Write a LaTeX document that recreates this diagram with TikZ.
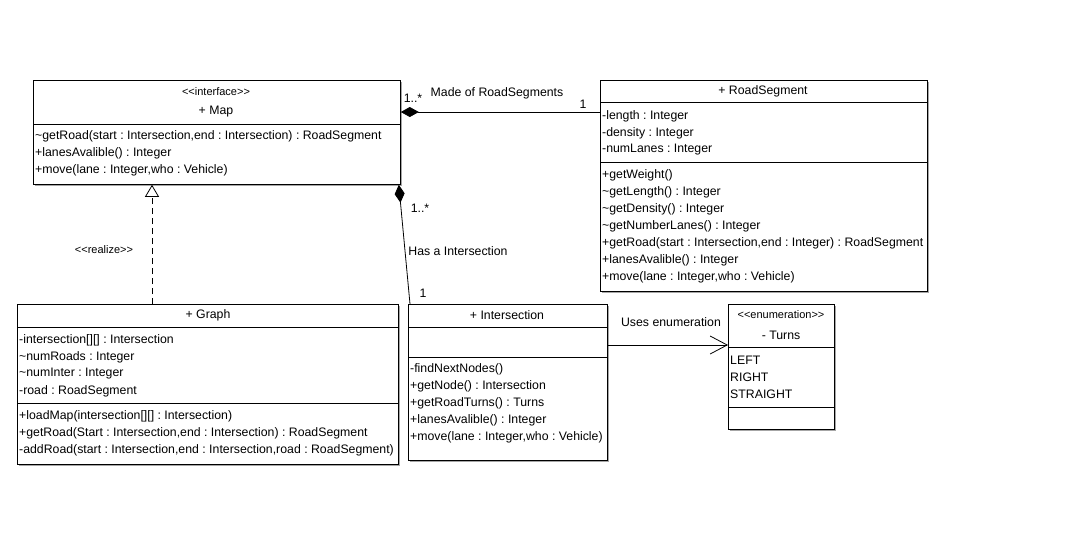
\documentclass[tikz,border=0pt]{standalone}
\usepackage{fontspec}
\setmainfont{Liberation Sans}
\usetikzlibrary{
  arrows.meta,
  positioning,
  calc,
  shadows
}
\newcommand{\til}{\symbol{126}}
\frenchspacing

\begin{document}
\begin{tikzpicture}[
x=1pt,y=-1pt,
font=\fontsize{12.3}{14}\selectfont,
classe/.style={
draw,
line width=0.8pt,
fill=white,
anchor=north west,
inner sep=0pt,
drop shadow={shadow xshift=1.5pt,shadow yshift=-1.5pt,fill=black!35,opacity=1}
},
linha/.style={anchor=west,inner sep=0pt,yshift=-2pt},
titulo/.style={inner sep=0pt,yshift=-2pt},
estereo/.style={inner sep=0pt,yshift=-1pt,font=\fontsize{11}{13}\selectfont},
rotulo/.style={inner sep=0pt,yshift=-2pt},
div/.style={line width=0.8pt},
comp/.style={{Diamond[length=18pt,width=10pt]}-,line width=0.8pt},
realiza/.style={-{Triangle[open,length=12pt,width=14pt]},line width=0.8pt,dash pattern=on 6pt off 4pt},
usa/.style={-{Straight Barb[length=17pt,width=18pt]},line width=0.8pt}
]

\useasboundingbox (0,0) rectangle (1071,544);

\node[classe,minimum width=367pt,minimum height=104pt] (map) at (33,80) {};
\node[estereo] (mapst) at (216,91) {<{}<interface>{}>};
\node[titulo] (mapnm) at (216,110) {+ Map};
\draw[div] (map.west |- 0,124) -- (map.east |- 0,124);
\foreach \t [count=\i] in {
{\til getRoad(start : Intersection,end : Intersection) : RoadSegment},
{+lanesAvalible() : Integer},
{+move(lane : Integer,who : Vehicle)}}
\node[linha] (mapm\i) at (35,{117+17*\i}) {\t};

\node[classe,minimum width=327pt,minimum height=211pt] (road) at (600,80) {};
\node[titulo] (roadnm) at (763,89) {+ RoadSegment};
\draw[div] (road.west |- 0,102) -- (road.east |- 0,102);
\draw[div] (road.west |- 0,162) -- (road.east |- 0,162);
\foreach \t [count=\i] in {
{-length : Integer},
{-density : Integer},
{-numLanes : Integer}}
\node[linha] (roada\i) at (602,{97+17*\i}) {\t};
\foreach \t [count=\i] in {
{+getWeight()},
{\til getLength() : Integer},
{\til getDensity() : Integer},
{\til getNumberLanes() : Integer},
{+getRoad(start : Intersection,end : Integer) : RoadSegment},
{+lanesAvalible() : Integer},
{+move(lane : Integer,who : Vehicle)}}
\node[linha] (roadm\i) at (602,{156+17*\i}) {\t};

\node[classe,minimum width=381pt,minimum height=160pt] (graph) at (17,304) {};
\node[titulo] (graphnm) at (208,313) {+ Graph};
\draw[div] (graph.west |- 0,327) -- (graph.east |- 0,327);
\draw[div] (graph.west |- 0,403) -- (graph.east |- 0,403);
\foreach \t [count=\i] in {
{-intersection[][] : Intersection},
{\til numRoads : Integer},
{\til numInter : Integer},
{-road : RoadSegment}}
\node[linha] (grapha\i) at (19,{321+17*\i}) {\t};
\foreach \t [count=\i] in {
{+loadMap(intersection[][] : Intersection)},
{+getRoad(Start : Intersection,end : Intersection) : RoadSegment},
{-addRoad(start : Intersection,end : Intersection,road : RoadSegment)}}
\node[linha] (graphm\i) at (19,{397+17*\i}) {\t};

\node[classe,minimum width=199pt,minimum height=156pt] (inter) at (408,304) {};
\node[titulo] (internm) at (507,313) {+ Intersection};
\draw[div] (inter.west |- 0,327) -- (inter.east |- 0,327);
\draw[div] (inter.west |- 0,357) -- (inter.east |- 0,357);
\foreach \t [count=\i] in {
{-findNextNodes()},
{+getNode() : Intersection},
{+getRoadTurns() : Turns},
{+lanesAvalible() : Integer},
{+move(lane : Integer,who : Vehicle)}}
\node[linha] (interm\i) at (410,{350+17*\i}) {\t};

\node[classe,minimum width=106pt,minimum height=125pt] (turns) at (728,304) {};
\node[estereo] (turnsst) at (781,314) {<{}<enumeration>{}>};
\node[titulo] (turnsnm) at (781,333) {- Turns};
\draw[div] (turns.west |- 0,347) -- (turns.east |- 0,347);
\draw[div] (turns.west |- 0,407) -- (turns.east |- 0,407);
\foreach \t [count=\i] in {LEFT,RIGHT,STRAIGHT}
\node[linha] (turnsv\i) at (730,{341+17*\i}) {\t};

\draw[comp] (map.east |- 0,112) -- (road.west |- 0,112);
\node[rotulo] (m1) at (413,96) {1..*};
\node[rotulo] (m2) at (497,91) {Made of RoadSegments};
\node[rotulo] (m3) at (583,102) {1};

\draw[comp] ([xshift=-2pt]map.south east) -- ([xshift=2pt]inter.north west);
\node[rotulo] (h1) at (420,206) {1..*};
\node[rotulo] (h2) at (458,249) {Has a Intersection};
\node[rotulo] (h3) at (423,291) {1};

\draw[realiza] (graph.north -| 152,0) -- (map.south -| 152,0);
\node[estereo] (r1) at (104,249) {<{}<realize>{}>};

\draw[usa] (inter.east |- 0,345) -- (turns.west |- 0,345);
\node[rotulo] (u1) at (671,320) {Uses enumeration};

\end{tikzpicture}
\end{document}
